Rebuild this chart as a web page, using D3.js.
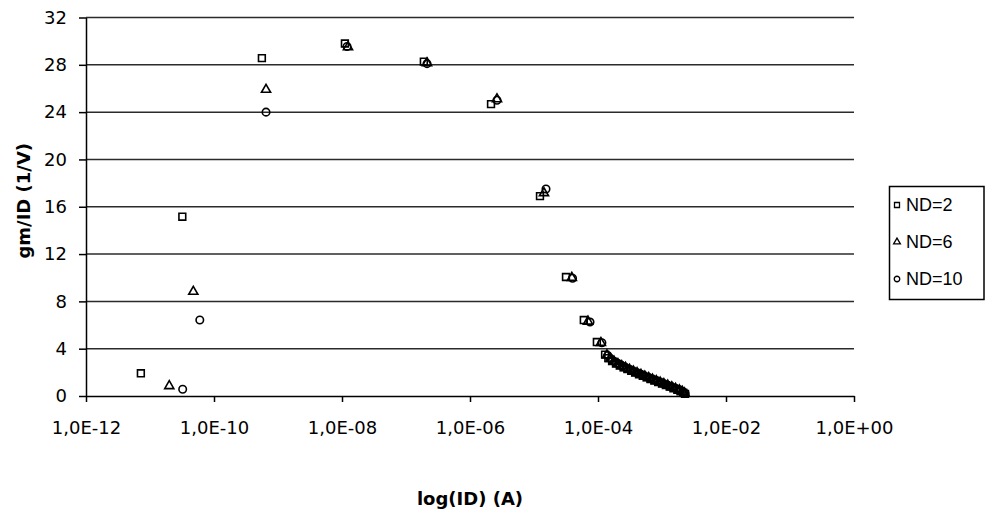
<!DOCTYPE html>
<html lang="en">
<head>
    <meta charset="UTF-8">
    <title>gm/ID vs log(ID)</title>
    <script src="https://d3js.org/d3.v7.min.js"></script>
    <style>
        body {
            margin: 0;
            padding: 0;
            background-color: white;
        }
        svg {
            display: block;
        }
        .tick-label {
            font-family: 'DejaVu Sans', sans-serif;
            font-size: 18px;
            fill: #000;
        }
        .axis-title {
            font-family: 'DejaVu Sans', sans-serif;
            font-size: 18px;
            font-weight: bold;
            fill: #000;
        }
        .legend-label {
            font-family: 'Liberation Sans', Arial, sans-serif;
            font-size: 18px;
            fill: #000;
        }
    </style>
</head>
<body>
    <div id="chart"></div>

    <script type="text/javascript">
        // values
        const nd2Current = [7.2e-12, 3.2e-11, 5.6e-10, 1.11e-8, 1.9e-7, 2.13e-6, 1.24e-5, 3.16e-5, 6.0e-5, 9.6e-5,
            1.29e-4, 1.45e-4, 1.66e-4, 1.91e-4, 2.19e-4, 2.51e-4, 2.88e-4, 3.31e-4, 3.80e-4, 4.37e-4, 5.01e-4, 5.75e-4,
            6.61e-4, 7.59e-4, 8.71e-4, 1.00e-3, 1.15e-3, 1.32e-3, 1.51e-3, 1.74e-3, 1.95e-3, 2.14e-3, 2.29e-3];
        const nd2Gm = [1.92, 15.16, 28.57, 29.8, 28.27, 24.68, 16.9, 10.06, 6.42, 4.56,
            3.50, 3.20, 2.95, 2.75, 2.58, 2.42, 2.27, 2.12, 1.98, 1.84, 1.70, 1.57,
            1.44, 1.31, 1.18, 1.05, 0.92, 0.79, 0.66, 0.53, 0.40, 0.28, 0.18];

        const nd6Current = [2.0e-11, 4.75e-11, 6.5e-10, 1.24e-8, 2.13e-7, 2.64e-6, 1.43e-5, 3.9e-5, 6.98e-5, 1.11e-4,
            1.38e-4, 1.56e-4, 1.78e-4, 2.05e-4, 2.35e-4, 2.70e-4, 3.10e-4, 3.56e-4, 4.08e-4, 4.69e-4, 5.38e-4,
            6.18e-4, 7.10e-4, 8.15e-4, 9.36e-4, 1.07e-3, 1.23e-3, 1.42e-3, 1.63e-3, 1.87e-3, 2.08e-3, 2.25e-3];
        const nd6Gm = [0.85, 8.82, 25.9, 29.5, 28.15, 25.1, 17.16, 10.0, 6.3, 4.5,
            3.45, 3.15, 2.92, 2.72, 2.55, 2.39, 2.24, 2.09, 1.95, 1.81, 1.67,
            1.54, 1.41, 1.28, 1.15, 1.02, 0.89, 0.76, 0.63, 0.50, 0.37, 0.25];

        const nd10Current = [3.24e-11, 6.0e-11, 6.5e-10, 1.2e-8, 2.13e-7, 2.64e-6, 1.54e-5, 4.0e-5, 7.5e-5, 1.15e-4,
            1.42e-4, 1.60e-4, 1.83e-4, 2.10e-4, 2.41e-4, 2.77e-4, 3.18e-4, 3.65e-4, 4.19e-4, 4.81e-4, 5.52e-4,
            6.34e-4, 7.28e-4, 8.36e-4, 9.60e-4, 1.10e-3, 1.26e-3, 1.45e-3, 1.67e-3, 1.90e-3, 2.12e-3, 2.30e-3];
        const nd10Gm = [0.57, 6.42, 24.0, 29.55, 28.1, 25.0, 17.5, 9.95, 6.25, 4.5,
            3.42, 3.12, 2.90, 2.70, 2.53, 2.37, 2.22, 2.07, 1.93, 1.79, 1.65,
            1.52, 1.39, 1.26, 1.13, 1.00, 0.87, 0.74, 0.61, 0.48, 0.35, 0.22];

        const seriesNames = ["ND=2", "ND=6", "ND=10"];
        const xTickValues = [1e-12, 1e-10, 1e-8, 1e-6, 1e-4, 1e-2, 1];
        const xTickLabels = ["1,0E-12", "1,0E-10", "1,0E-08", "1,0E-06", "1,0E-04", "1,0E-02", "1,0E+00"];
        const yTickValues = [0, 4, 8, 12, 16, 20, 24, 28, 32];

        const width = 985, height = 516;
        const plot = {left: 86, right: 854, top: 17.5, bottom: 396};

        const svg = d3.select("#chart").append("svg")
            .attr("width", width)
            .attr("height", height);

        svg.append("rect")
            .attr("width", width)
            .attr("height", height)
            .attr("fill", "white");

        const x = d3.scaleLog().domain([1e-12, 1]).range([plot.left, plot.right]);
        const y = d3.scaleLinear().domain([0, 32]).range([plot.bottom, plot.top]);

        // horizontal gridlines
        svg.append("g")
            .selectAll("line")
            .data(yTickValues.filter(v => v > 0))
            .join("line")
            .attr("x1", plot.left)
            .attr("x2", plot.right)
            .attr("y1", d => y(d))
            .attr("y2", d => y(d))
            .attr("stroke", "#2b2b2b")
            .attr("stroke-width", 1.5);

        // y axis
        const yAxis = svg.append("g")
            .attr("transform", `translate(${plot.left},0)`)
            .call(d3.axisLeft(y).tickValues(yTickValues).tickSize(7).tickPadding(12).tickSizeOuter(0));
        yAxis.select(".domain").attr("stroke", "#000").attr("stroke-width", 1.5);
        yAxis.selectAll(".tick line").attr("stroke", "#000").attr("stroke-width", 1.5);
        yAxis.selectAll(".tick text").attr("class", "tick-label").attr("font-family", null).attr("font-size", null);

        // x axis
        const xAxis = svg.append("g")
            .attr("transform", `translate(0,${plot.bottom})`)
            .call(d3.axisBottom(x).tickValues(xTickValues).tickSize(6).tickPadding(8).tickSizeOuter(0)
                .tickFormat((d, i) => xTickLabels[i]));
        xAxis.select(".domain").attr("stroke", "#000").attr("stroke-width", 1.5);
        xAxis.selectAll(".tick line").attr("stroke", "#000").attr("stroke-width", 1.5);
        xAxis.selectAll(".tick text").attr("class", "tick-label").attr("font-family", null).attr("font-size", null)
            .attr("dy", "1.33em");

        // axis titles
        svg.append("text")
            .attr("class", "axis-title")
            .attr("x", (plot.left + plot.right) / 2)
            .attr("y", 505)
            .attr("text-anchor", "middle")
            .text("log(ID) (A)");

        svg.append("text")
            .attr("class", "axis-title")
            .attr("transform", `translate(30,${(plot.top + plot.bottom) / 2 - 6}) rotate(-90)`)
            .attr("text-anchor", "middle")
            .text("gm/ID (1/V)");

        // markers
        const symbols = [
            d3.symbol().type(d3.symbolSquare).size(46),
            d3.symbol().type(d3.symbolTriangle).size(36),
            d3.symbol().type(d3.symbolCircle).size(44)
        ];
        const series = [
            {current: nd2Current, gm: nd2Gm},
            {current: nd6Current, gm: nd6Gm},
            {current: nd10Current, gm: nd10Gm}
        ];

        series.forEach((s, k) => {
            const pts = s.current.map((c, i) => [c, s.gm[i]]);
            svg.append("g")
                .selectAll("path")
                .data(pts)
                .join("path")
                .attr("d", symbols[k])
                .attr("transform", d => `translate(${x(d[0])},${y(d[1])})`)
                .attr("fill", "none")
                .attr("stroke", "#000")
                .attr("stroke-width", 1.6);
        });

        // legend
        const legend = svg.append("g");
        legend.append("rect")
            .attr("x", 889.5)
            .attr("y", 186.5)
            .attr("width", 94.5)
            .attr("height", 113)
            .attr("fill", "white")
            .attr("stroke", "#000")
            .attr("stroke-width", 1.5);

        const legendSymbols = [
            d3.symbol().type(d3.symbolSquare).size(25),
            d3.symbol().type(d3.symbolTriangle).size(20),
            d3.symbol().type(d3.symbolCircle).size(24)
        ];
        const legendY = [205, 242, 279];

        seriesNames.forEach((name, k) => {
            legend.append("path")
                .attr("d", legendSymbols[k])
                .attr("transform", `translate(897,${legendY[k]})`)
                .attr("fill", "none")
                .attr("stroke", "#000")
                .attr("stroke-width", 1.3);
            legend.append("text")
                .attr("class", "legend-label")
                .attr("x", 906)
                .attr("y", legendY[k])
                .attr("dy", "0.36em")
                .text(name);
        });
    </script>
</body>
</html>
